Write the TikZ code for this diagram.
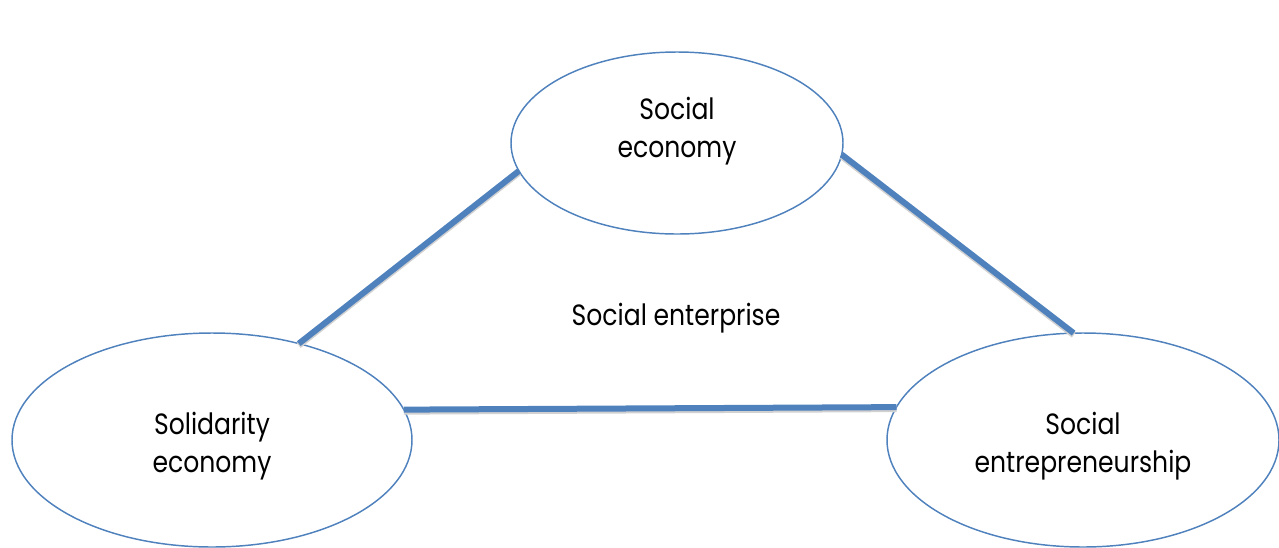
\documentclass[tikz,border=0pt]{standalone}
\usepackage{fontspec}
\setmainfont{Poppins}[FakeStretch=0.855]
\usepackage{tikz}
\usetikzlibrary{shapes.geometric}
\definecolor{linkblue}{HTML}{4F81BD}

\begin{document}
\begin{tikzpicture}[x=0.75pt,y=-0.75pt,
    sector/.style={ellipse,draw=linkblue,line width=1.1pt,inner sep=0pt,outer sep=0pt,
      align=center,font=\fontsize{22}{28.5}\selectfont},
    link/.style={draw=linkblue,line width=4.5pt,
      preaction={draw=black!18,line width=4.5pt,transform canvas={yshift=-1.5pt}}}]
    \useasboundingbox (0,0) rectangle (1279,547);
    \node[sector,minimum width=249pt,minimum height=136.5pt] (social) at (677,143) {Social\\economy\\[-5pt]\mbox{}};
    \node[sector,minimum width=300pt,minimum height=160.5pt] (solidarity) at (212,440) {\mbox{}\\[-2pt]Solidarity\\economy};
    \node[sector,minimum width=294pt,minimum height=160.5pt] (entre) at (1083,440) {\mbox{}\\[-2pt]Social\\entrepreneurship};
    \node[font=\fontsize{22}{28.5}\selectfont] (enterprise) at (676,318) {Social enterprise};
    \draw[link] (social.190.5) -- (solidarity.48.7);
    \draw[link] (social.356) -- (entre.95.3);
    \draw[link] (solidarity.9.1) -- (entre.170.7);
  \end{tikzpicture}
\end{document}
